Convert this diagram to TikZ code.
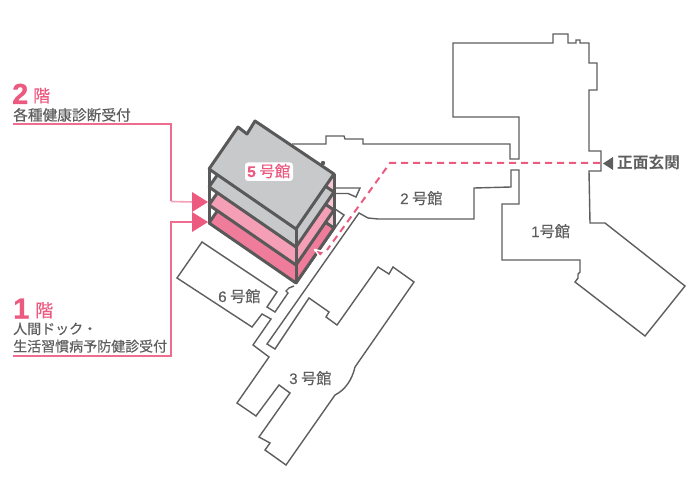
\documentclass[tikz,border=0pt]{standalone}
\usepackage{fontspec}
\setmainfont{Noto Sans CJK JP}[FakeBold=0.45]
\newfontfamily\headfont{Noto Sans CJK JP Bold}
\newfontfamily\digitfont{Liberation Sans}[FakeBold=0.3]
\newfontfamily\heavydigit{Liberation Sans Bold}[FakeBold=0.5]
\usetikzlibrary{calc}
\definecolor{plan}{HTML}{5E5E5E}
\definecolor{slabedge}{HTML}{595959}
\definecolor{slabgray}{HTML}{C8C9CA}
\definecolor{pinkA}{HTML}{F49FB5}
\definecolor{pinkB}{HTML}{EF7C9A}
\definecolor{gap}{HTML}{F8C6D3}
\definecolor{accent}{HTML}{EC5A80}
\definecolor{leader}{HTML}{EE6C8F}
\definecolor{leaderlight}{HTML}{F6A0B6}
\tikzset{
  outline/.style={draw=plan,line width=1.4pt,line join=miter},
  slab/.style={draw=slabedge,line width=3pt,line join=round},
  pillar/.style={draw=slabedge,line width=3pt},
  leaderline/.style={draw=leader,line width=1.3pt},
  pinktip/.style={fill=accent,draw=none},
  route/.style={draw=accent,line width=2pt,dash pattern=on 7pt off 5pt},
  lab/.style={inner sep=0pt,anchor=base west,text=plan,font=\fontsize{15.2}{15.2}\selectfont},
  sublab/.style={inner sep=0pt,anchor=base west,text=plan},
  floor/.style={inner sep=0pt,anchor=base west,text=accent},
}
\newcommand{\slabpath}[1]{(209,169+#1) -- (238,127+#1) -- (247,134+#1) -- (255,121+#1) -- (334,174+#1) -- (296,229+#1) -- cycle}
\begin{document}
\begin{tikzpicture}[x=1pt,y=-1pt]
\useasboundingbox (0,0) rectangle (695,494);
% site plan outline
\draw[outline] (292,144) -- (326,144) -- (326,136) -- (344,136) -- (345,139) -- (363,139) -- (363,144) -- (510,144) -- (510,159) -- (519,159) -- (519,117) -- (453,117) -- (453,43) -- (553,43) -- (553,34) -- (568,34) -- (568,43) -- (576,43) -- (576,40) -- (580,40) -- (580,43) -- (589,43) -- (589,63) -- (597,63) -- (597,90) -- (589,90) -- (589,151) -- (601,151) -- (601,171) -- (589,171) -- (590,223) -- (605,223) -- (685,286) -- (645,336) -- (575,282) -- (578,278) -- (578,274) -- (580,272) -- (580,260) -- (502,260) -- (502,204) -- (519,204) -- (519,170) -- (511,170) -- (511,187) -- (474,188) -- (474,219) -- (378,219) -- (368,218) -- (359,213) -- (267,344) -- (275,349) -- (309,298) -- (329,312) -- (326,317) -- (337,325) -- (378,267) -- (389,274) -- (393,267) -- (414,282) -- (355,367) .. controls (352,380) and (345,390) .. (335,395) -- (286,465) -- (265,450) -- (270,443) -- (259,437) -- (290,393) -- (279,385) -- (256,416) -- (237,403) -- (269,357) -- (253,345) -- (271,319) -- (262,314) -- (252,327) -- (177,278) -- (202,242) -- (277,292) -- (267,307) -- (275,312) -- (288,293) -- (286,291) -- (289,288) -- (294,286);
\draw[outline] (335,188) -- (360,188) -- (356,197) -- (348,193.5) -- (335,193.5);
\draw[outline] (335,209) -- (344,215) -- (296,284);
% route
\draw[route] (600,163) -- (390,163) -- (327,250);
% building 5
\fill[gap] (334,174) -- (334,192) -- (322,184) -- cycle;
\fill[gap] (334,192) -- (334,210) -- (322,202) -- cycle;
\fill[gap] (334,210) -- (334,228) -- (322,220) -- cycle;
\draw[slab,fill=pinkB] \slabpath{54};
\draw[slab,fill=pinkA] \slabpath{36};
\draw[slab,fill=slabgray] \slabpath{18};
\draw[slab,fill=slabgray] \slabpath{0};
\fill[slabedge] (323,163) circle (2.2);
\draw[pillar] (209,169) -- (209,223);
\draw[pillar] (296,229) -- (296,283);
\draw[pillar] (334,174) -- (334,228);
% route arrowhead
\draw[white,line width=1.5pt,fill=accent,line join=round] (314.5,249.5) -- (325,252) -- (320,257) -- cycle;
% leaders
\coordinate (upperstart) at (13,124);
\coordinate (upperbend) at (171,124);
\coordinate (upperfoot) at (171,201.5);
\coordinate (lowerstart) at (13,356);
\coordinate (lowerbend) at (171,356);
\coordinate (lowerfoot) at (171,222);
\node[pinktip,inner sep=0pt,minimum size=0pt] (uppertip) at (193,202) {};
\node[pinktip,inner sep=0pt,minimum size=0pt] (lowertip) at (193,222) {};
\draw[leaderline] (upperstart) -- (upperbend) -- (upperfoot);
\draw[draw=leaderlight,line width=1.6pt] (upperfoot) -- (uppertip);
\draw[leaderline] (lowerstart) -- (lowerbend) -- (lowerfoot) -- (lowertip);
\fill[accent] (192,192) -- (208,202) -- (192,212) -- cycle;
\fill[accent] (192,212) -- (208,222) -- (192,232) -- cycle;
% front entrance marker
\fill[plan] (603,163.5) -- (613,157) -- (613,170) -- cycle;
% halo behind the building name
\fill[white,rounded corners=3pt] (245,162.5) rectangle (293,181);
% labels
\node[floor,font=\heavydigit\fontsize{29}{29}\selectfont] (floortwo) at (12,104) {2};
\node[floor,font=\fontsize{17}{17}\selectfont] (floortwokai) at (33,102) {階};
\node[sublab,font=\fontsize{14.7}{14.7}\selectfont] (tworec) at (13,120.5) {各種健康診断受付};
\node[floor,font=\heavydigit\fontsize{29}{29}\selectfont] (floorone) at (13,318.5) {1};
\node[floor,font=\fontsize{18}{18}\selectfont] (flooronekai) at (35,317) {階};
\node[sublab,font=\fontsize{14}{14}\selectfont] (onerecA) at (13,334) {人間ドック・};
\node[sublab,font=\fontsize{14}{14}\selectfont] (onerecB) at (13,351.5) {生活習慣病予防健診受付};
\node[lab,text=accent,font=\fontsize{15.5}{15.5}\selectfont] (five) at (247,177) {{\heavydigit 5} 号館};
\node[lab] (six) at (218,302) {{\digitfont 6} 号館};
\node[lab] (two) at (400,204) {{\digitfont 2} 号館};
\node[lab] (one) at (531,237) {{\digitfont 1}号館};
\node[lab] (three) at (289,384) {{\digitfont 3} 号館};
\node[lab,font=\headfont\fontsize{15.7}{15.7}\selectfont] (entrance) at (617,169) {正面玄関};
\end{tikzpicture}
\end{document}
